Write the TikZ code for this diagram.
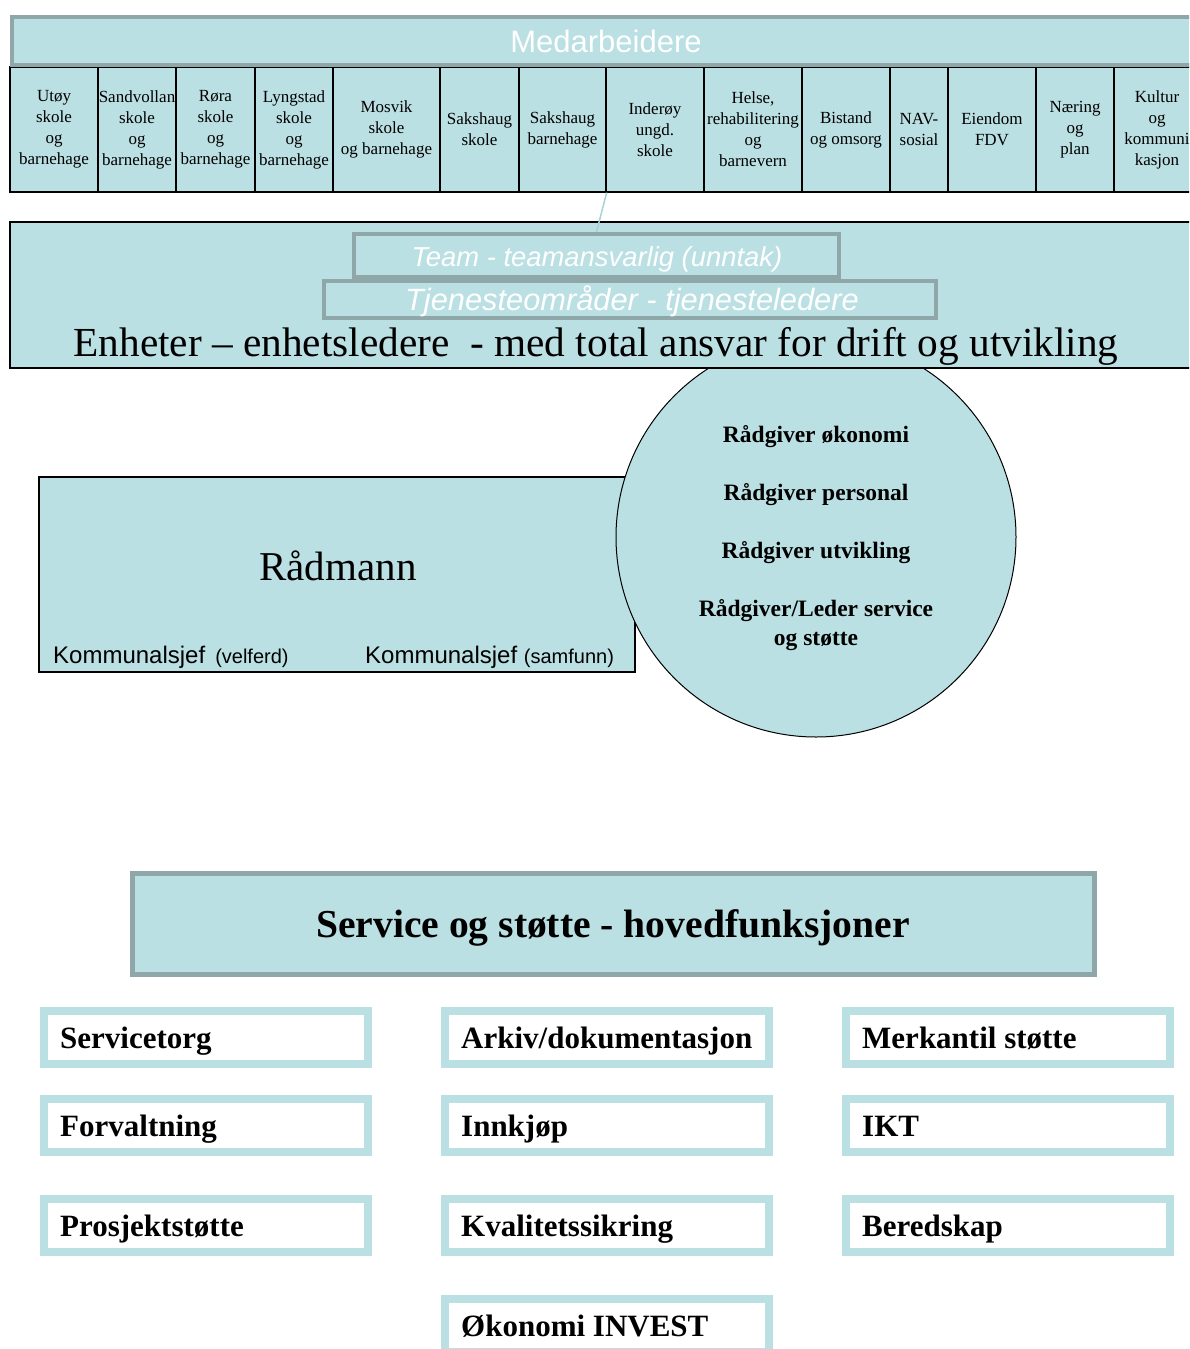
\documentclass[tikz,border=0pt]{standalone}
\usepackage{fontspec}
\setmainfont{Liberation Serif}
\newfontfamily\arialf{Liberation Sans}
\definecolor{lb}{HTML}{BBE0E3}
\definecolor{gb}{HTML}{8FA7A9}
\definecolor{cn}{HTML}{A6D3D8}
\begin{document}
\begin{tikzpicture}[x=1pt,y=-1pt,
  cell/.style={draw=black,line width=1.3pt,fill=lb,minimum height=125pt,inner sep=0pt,align=center,font=\fontsize{17}{21}\selectfont},
  graybox/.style={draw=gb,line width=4pt,fill=lb,inner sep=0pt},
  blackbox/.style={draw=black,line width=1.3pt,fill=lb,inner sep=0pt},
  funcbox/.style={draw=lb,line width=8pt,fill=white,inner sep=0pt,minimum width=324pt,minimum height=53pt},
  functext/.style={anchor=base west,inner sep=0pt,font=\bfseries\fontsize{31}{36}\selectfont},
  radtext/.style={anchor=base,inner sep=0pt,font=\bfseries\fontsize{23.5}{28}\selectfont},
  whitetext/.style={anchor=base,inner sep=0pt,text=white},
  conn/.style={draw=cn,line width=1.5pt}
]
\clip (0,0) rectangle (1189,1349);
\fill[white] (0,0) rectangle (1189,1349);

% Radmann
\node[blackbox,minimum width=596pt,minimum height=195pt] (radm) at (337,574.5) {};
\node[anchor=base,inner sep=0pt,font=\fontsize{41}{48}\selectfont] (radmt) at (338,580) {Rådmann};
\node[anchor=base west,inner sep=0pt,font=\arialf] (ks1) at (53,663) {\fontsize{24}{28}\selectfont Kommunalsjef\hspace{10pt}\fontsize{20}{24}\selectfont (velferd)};
\node[anchor=base west,inner sep=0pt,font=\arialf] (ks2) at (365,663) {\fontsize{24}{28}\selectfont Kommunalsjef \fontsize{20}{24}\selectfont(samfunn)};

% circle
\node[circle,draw=black,line width=1pt,fill=lb,minimum size=400pt,inner sep=0pt] (circ) at (816,537) {};
\node[radtext] (r1) at (816,442) {Rådgiver økonomi};
\node[radtext] (r2) at (816,500) {Rådgiver personal};
\node[radtext] (r3) at (816,558) {Rådgiver utvikling};
\node[radtext] (r4) at (816,616) {Rådgiver/Leder service};
\node[radtext] (r5) at (816,645) {og støtte};

% Enheter
\node[blackbox,minimum width=1190pt,minimum height=146pt] (enh) at (605,295) {};
\node[graybox,minimum width=485pt,minimum height=43pt] (team) at (596.5,255.5) {};
\node[graybox,minimum width=612pt,minimum height=37pt] (tjen) at (630,299.5) {};
\node[whitetext,font=\arialf\itshape\fontsize{27.4}{32}\selectfont] (teamt) at (597,266) {Team - teamansvarlig (unntak)};
\node[whitetext,font=\arialf\itshape\fontsize{30.8}{36}\selectfont] (tjent) at (632,310) {Tjenesteområder - tjenesteledere};
\node[anchor=base,inner sep=0pt,font=\fontsize{41.3}{48}\selectfont] (enht) at (596,356) {Enheter -- enhetsledere\ \ - med total ansvar for drift og utvikling};

% cells
\node[cell,minimum width=88pt] (c1) at (54,129.5) {Utøy\\skole\\og\\barnehage};
\node[cell,minimum width=78pt] (c2) at (137,129.5) {Sandvollan\\skole\\og\\barnehage};
\node[cell,minimum width=79pt] (c3) at (215.5,129.5) {Røra\\skole\\og\\barnehage};
\node[cell,minimum width=78pt] (c4) at (294,129.5) {Lyngstad\\skole\\og\\barnehage};
\node[cell,minimum width=107pt] (c5) at (386.5,129.5) {Mosvik\\skole\\og barnehage};
\node[cell,minimum width=79pt] (c6) at (479.5,129.5) {Sakshaug\\skole};
\node[cell,minimum width=87pt] (c7) at (562.5,129.5) {Sakshaug\\barnehage};
\node[cell,minimum width=98pt] (c8) at (655,129.5) {Inderøy\\ungd.\\skole};
\node[cell,minimum width=98pt] (c9) at (753,129.5) {Helse,\\rehabilitering\\og\\barnevern};
\node[cell,minimum width=88pt] (c10) at (846,129.5) {Bistand\\og omsorg};
\node[cell,minimum width=58pt] (c11) at (919,129.5) {NAV-\\sosial};
\node[cell,minimum width=88pt] (c12) at (992,129.5) {Eiendom\\FDV};
\node[cell,minimum width=78pt] (c13) at (1075,129.5) {Næring\\og\\plan};
\node[cell,minimum width=86pt] (c14) at (1157,129.5) {Kultur\\og\\kommuni\\kasjon};

% band
\node[graybox,minimum width=1193pt,minimum height=48pt] (band) at (608.5,41) {};
\node[whitetext,font=\arialf\fontsize{31}{36}\selectfont] (bandt) at (606,52) {Medarbeidere};

% connector
\draw[conn] (c7.south east) -- (team.north);

% service
\node[graybox,line width=5pt,minimum width=962pt,minimum height=101pt] (svc) at (613.5,924) {};
\node[anchor=base,inner sep=0pt,font=\bfseries\fontsize{39.6}{46}\selectfont] (svct) at (613,937) {Service og støtte - hovedfunksjoner};

\node[funcbox] (f11) at (206,1037.5) {};
\node[funcbox] (f12) at (606.5,1037.5) {};
\node[funcbox] (f13) at (1007.5,1037.5) {};
\node[funcbox] (f21) at (206,1125.5) {};
\node[funcbox] (f22) at (606.5,1125.5) {};
\node[funcbox] (f23) at (1007.5,1125.5) {};
\node[funcbox] (f31) at (206,1225.5) {};
\node[funcbox] (f32) at (606.5,1225.5) {};
\node[funcbox] (f33) at (1007.5,1225.5) {};
\node[funcbox] (f42) at (606.5,1325.5) {};

\node[functext] (t11) at (60,1048) {Servicetorg};
\node[functext] (t12) at (461,1048) {Arkiv/dokumentasjon};
\node[functext] (t13) at (862,1048) {Merkantil støtte};
\node[functext] (t21) at (60,1136) {Forvaltning};
\node[functext] (t22) at (461,1136) {Innkjøp};
\node[functext] (t23) at (862,1136) {IKT};
\node[functext] (t31) at (60,1236) {Prosjektstøtte};
\node[functext] (t32) at (461,1236) {Kvalitetssikring};
\node[functext] (t33) at (862,1236) {Beredskap};
\node[functext] (t42) at (461,1336) {Økonomi INVEST};
\end{tikzpicture}
\end{document}
